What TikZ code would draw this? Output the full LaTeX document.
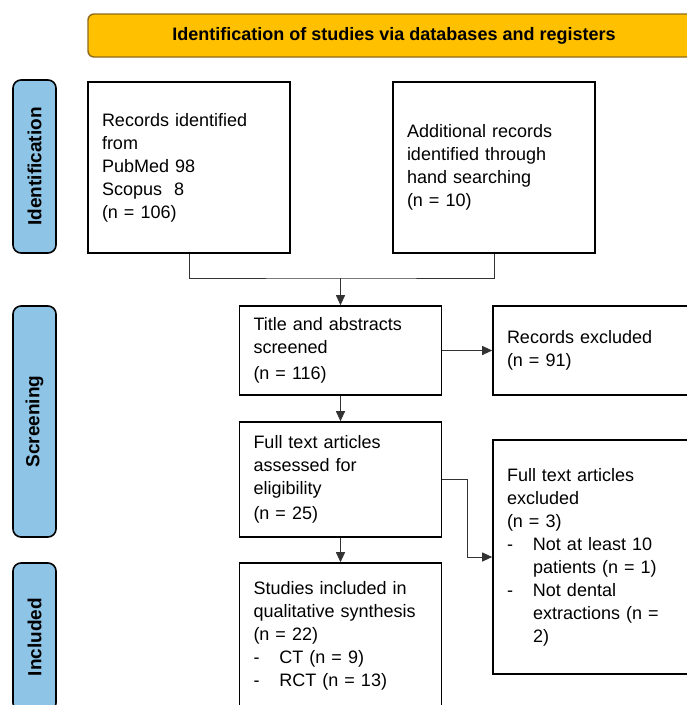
\documentclass[tikz,border=0pt]{standalone}
\usepackage{fontspec}
\setmainfont{Liberation Sans}
\usetikzlibrary{arrows.meta}
\definecolor{bannerfill}{HTML}{FFC000}
\definecolor{bannerline}{HTML}{8F6A1A}
\definecolor{phasefill}{HTML}{8EC4E6}
\newcommand{\listdash}[1]{\makebox[26pt][l]{-}#1}
\newcommand{\listgap}{\hspace*{26pt}}

\begin{document}
\begin{tikzpicture}[x=1pt,y=1pt,
    arrow/.style = {line width=0.9pt,draw=black!80,-{Triangle[length=10pt,width=9pt]}},
    link/.style = {line width=0.9pt,draw=black!80},
    box/.style = {draw,line width=1.6pt,text width=174pt,inner xsep=14pt,align=left,
                  font=\fontsize{18}{23}\selectfont},
    phase/.style = {draw,line width=1.6pt,fill=phasefill,rounded corners=8pt,rotate=90,
                    minimum height=43pt,inner sep=0pt,font=\fontsize{19}{22}\selectfont\bfseries},
    banner/.style = {draw=bannerline,line width=1.4pt,fill=bannerfill,rounded corners=6pt,
                     minimum width=612pt,minimum height=43pt,font=\fontsize{18}{22}\selectfont\bfseries}]
    \useasboundingbox (0,0) rectangle (687,-705);

    \node[banner] (title) at (394,-35.5) {Identification of studies via databases and registers};

    \node[phase,minimum width=173pt] (ident) at (34.5,-166.5) {Identification};
    \node[phase,minimum width=231pt] (screen) at (34.5,-421.5) {Screening};
    \node[phase,minimum width=148pt] (incl) at (34.5,-637) {Included};

    \node[box,minimum height=171pt] (records) at (189,-167.5)
        {Records identified\\ from\\ PubMed 98\\ Scopus\ \ 8\\ (n = 106)};
    \node[box,minimum height=171pt] (hand) at (494,-167.5)
        {Additional records\\ identified through\\ hand searching\\ (n = 10)};
    \node[box,minimum height=89pt] (screened) at (340.5,-350.5)
        {Title and abstracts\\ screened\\[3pt] (n = 116)};
    \node[box,minimum height=89pt] (excluded) at (594,-350.5)
        {Records excluded\\ (n = 91)};
    \node[box,minimum height=115pt] (fulltext) at (340.5,-479.5)
        {Full text articles\\ assessed for\\ eligibility\\[2pt] (n = 25)};
    \node[box,minimum height=234pt] (ftexcl) at (594,-557)
        {Full text articles\\ excluded\\ (n = 3)\\
         \listdash{Not at least 10}\\ \listgap patients (n = 1)\\
         \listdash{Not dental}\\ \listgap extractions (n =\\ \listgap 2)};
    \node[box,minimum height=146pt] (included) at (340.5,-636)
        {Studies included in\\ qualitative synthesis\\ (n = 22)\\
         \listdash{CT (n = 9)}\\ \listdash{RCT (n = 13)}};

    % merge of the two sources
    \coordinate (join) at (340.5,-278);
    \draw[link] (records.south) |- (join) -| (hand.south);
    \draw[arrow] (join) -- (screened.north);

    \draw[arrow] (screened.east) -- (excluded.west);
    \draw[arrow] (screened.south) -- (fulltext.north);
    \draw[arrow] (fulltext.east) -- ++(25,0) |- (ftexcl.west);
    \draw[arrow] (fulltext.south) -- (included.north);
\end{tikzpicture}
\end{document}
